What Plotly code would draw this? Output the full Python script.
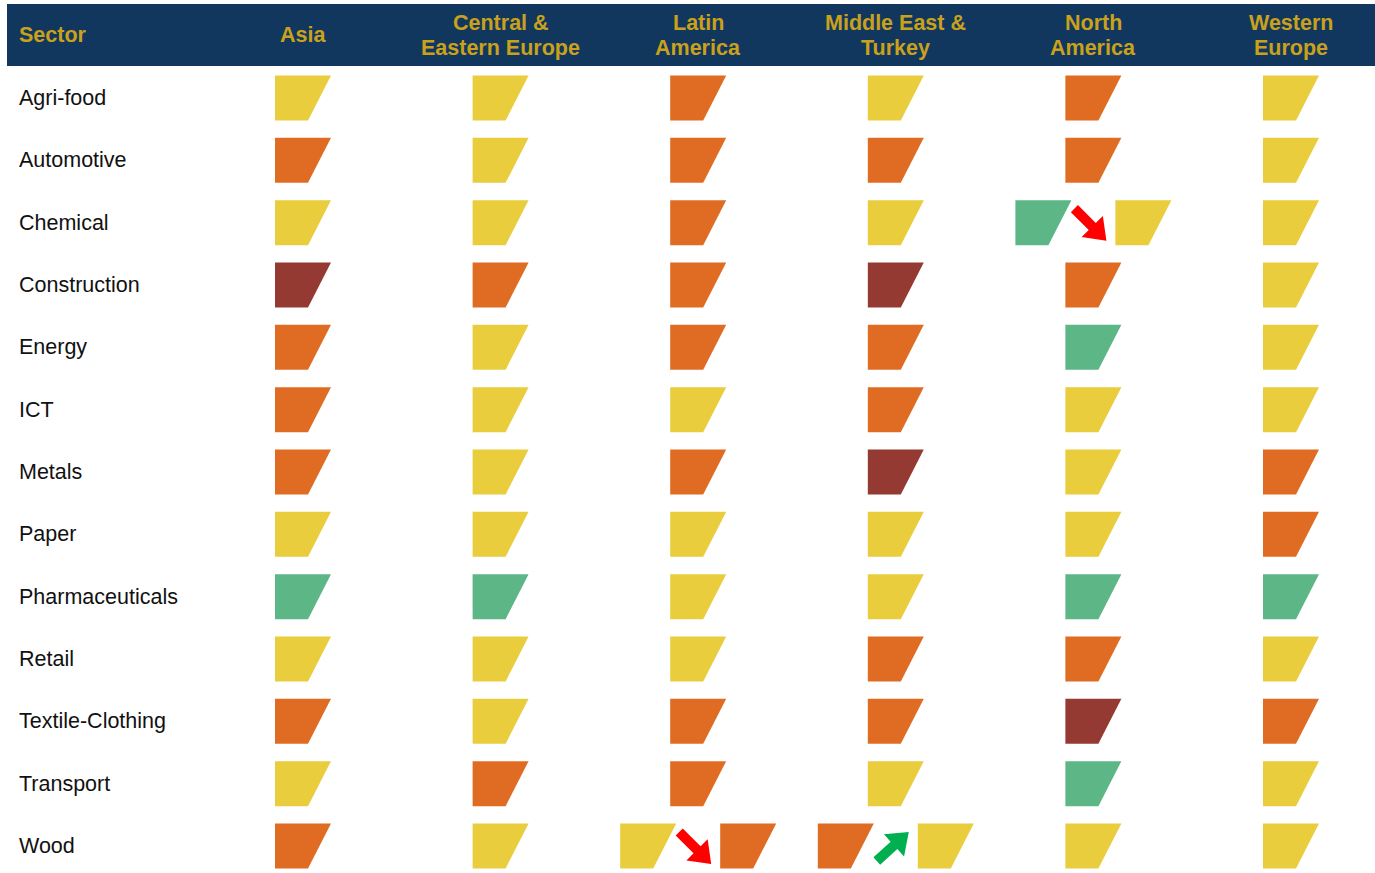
import plotly.graph_objects as go
import math

# ---------------- data ----------------
sectors = ["Agri-food", "Automotive", "Chemical", "Construction", "Energy", "ICT",
           "Metals", "Paper", "Pharmaceuticals", "Retail", "Textile-Clothing",
           "Transport", "Wood"]
regions = ["Asia", "Central &\nEastern Europe", "Latin\nAmerica",
           "Middle East &\nTurkey", "North\nAmerica", "Western\nEurope"]

# L = Low, M = Medium, H = High, V = Very high ; "A>B" = change from A to B
asia = ["M", "H", "M", "V", "H", "H", "H", "M", "L", "M", "H", "M", "H"]
central_eastern_europe = ["M", "M", "M", "H", "M", "M", "M", "M", "L", "M", "M", "H", "M"]
latin_america = ["H", "H", "H", "H", "H", "M", "H", "M", "M", "M", "H", "H", "M>H"]
middle_east_turkey = ["M", "H", "M", "V", "H", "H", "V", "M", "M", "H", "H", "M", "H>M"]
north_america = ["H", "H", "L>M", "H", "L", "M", "M", "M", "L", "H", "V", "L", "M"]
western_europe = ["M", "M", "M", "M", "M", "M", "H", "H", "L", "M", "H", "M", "M"]
columns = [asia, central_eastern_europe, latin_america, middle_east_turkey,
           north_america, western_europe]

risk_order = {"L": 0, "M": 1, "H": 2, "V": 3}
risk_colors = {"L": "#5DB686", "M": "#E9CD3D", "H": "#E06C23", "V": "#953A32"}

# ---------------- layout geometry (pixels) ----------------
W, H = 1375, 873
COL_PX, ROW_PX = 197.6, 62.33
X0_PX, Y0_PX = 303, 98           # centre of first column / first row
xmin = -X0_PX / COL_PX
xmax = (W - X0_PX) / COL_PX
ymin = -Y0_PX / ROW_PX
ymax = (H - Y0_PX) / ROW_PX

def px2x(p):
    return p / COL_PX

def px2y(p):
    return p / ROW_PX

fig = go.Figure()

def trapezoid(cx, cy, color):
    pts = [(-28, -22.5), (28, -22.5), (5, 22.5), (-28, 22.5), (-28, -22.5)]
    xs = [cx + px2x(p[0]) for p in pts]
    ys = [cy + px2y(p[1]) for p in pts]
    fig.add_trace(go.Scatter(x=xs, y=ys, mode="lines", fill="toself",
                             fillcolor=color, line=dict(width=0, color=color),
                             hoverinfo="skip", showlegend=False))

def arrow(cx, cy, up, color):
    if up:
        s, e = (-19, 15), (13, -14)
    else:
        s, e = (-19, -14), (13, 18)
    dx, dy = e[0] - s[0], e[1] - s[1]
    L = math.hypot(dx, dy)
    ux, uy = dx / L, dy / L
    nx, ny = -uy, ux
    w, hl, hw = 10, 20, 30
    bx, by = e[0] - ux * hl, e[1] - uy * hl
    pts = [(s[0] + nx * w / 2, s[1] + ny * w / 2),
           (bx + nx * w / 2, by + ny * w / 2),
           (bx + nx * hw / 2, by + ny * hw / 2),
           e,
           (bx - nx * hw / 2, by - ny * hw / 2),
           (bx - nx * w / 2, by - ny * w / 2),
           (s[0] - nx * w / 2, s[1] - ny * w / 2)]
    pts.append(pts[0])
    xs = [cx + px2x(p[0]) for p in pts]
    ys = [cy + px2y(p[1]) for p in pts]
    fig.add_trace(go.Scatter(x=xs, y=ys, mode="lines", fill="toself",
                             fillcolor=color, line=dict(width=0, color=color),
                             hoverinfo="skip", showlegend=False))

for ci, col in enumerate(columns):
    for ri, val in enumerate(col):
        if ">" in val:
            a, b = val.split(">")
            trapezoid(ci - px2x(50), ri, risk_colors[a])
            trapezoid(ci + px2x(50), ri, risk_colors[b])
            worse = risk_order[b] > risk_order[a]
            arrow(ci, ri, not worse, "#FF0000" if worse else "#00B050")
        else:
            trapezoid(ci, ri, risk_colors[val])

# header band
fig.add_shape(type="rect", xref="paper", yref="paper",
              x0=7 / W, x1=1, y0=1 - 66 / H, y1=1 - 4 / H,
              fillcolor="#12375F", line=dict(width=0), layer="below")

FONT = "Arial, Liberation Sans, sans-serif"
GOLD = "#C9A11B"

def hdr_text(x, text, xanchor):
    lines = text.split("\n")
    ys = [35] if len(lines) == 1 else [22.5, 47.5]
    for line, ypx in zip(lines, ys):
        fig.add_annotation(x=x, y=(ypx - Y0_PX) / ROW_PX, text="<b>" + line + "</b>",
                           showarrow=False, xanchor=xanchor, yanchor="middle",
                           font=dict(family=FONT, size=21.5, color=GOLD))

label_x = (17 - X0_PX) / COL_PX
hdr_text(label_x, "Sector", "left")
for ci, r in enumerate(regions):
    hdr_text(ci, r, "center")

for ri, s in enumerate(sectors):
    fig.add_annotation(x=label_x, y=ri, text=s, showarrow=False,
                       xanchor="left", yanchor="middle",
                       font=dict(family=FONT, size=21.5, color="#111111"))

fig.update_layout(
    width=W, height=H, margin=dict(l=0, r=0, t=0, b=0),
    paper_bgcolor="white", plot_bgcolor="white",
    xaxis=dict(range=[xmin, xmax], visible=False, fixedrange=True),
    yaxis=dict(range=[ymax, ymin], visible=False, fixedrange=True),
    showlegend=False,
)

fig.write_html("out.html")
